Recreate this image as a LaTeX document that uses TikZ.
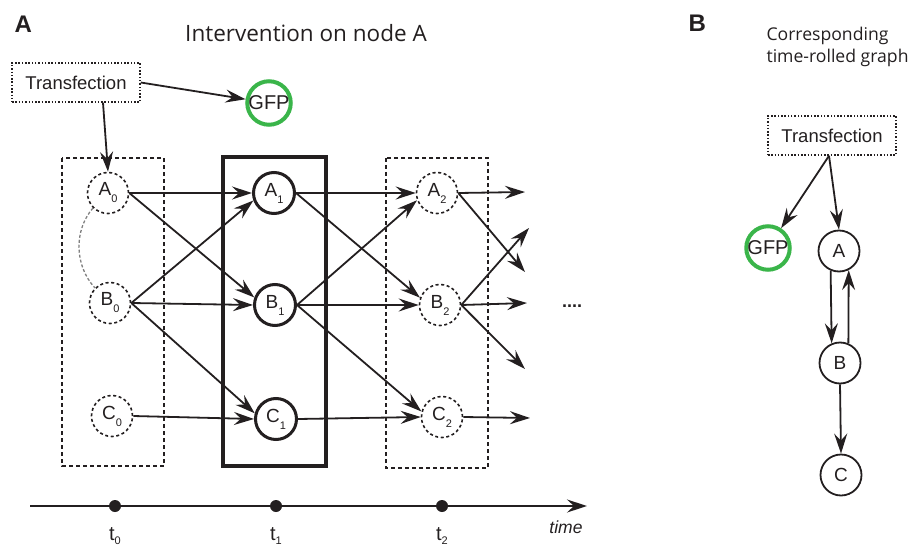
\documentclass[tikz,border=0pt]{standalone}
\usepackage{fontspec}
\setmainfont{Liberation Sans}
\newfontfamily\headfont{Open Sans}
\usetikzlibrary{arrows.meta}

\definecolor{ink}{HTML}{231F20}
\definecolor{gfpgreen}{HTML}{3AB54A}

% lowered indices for the time-slice labels
\newcommand\subidx[1]{\raisebox{-7pt}{\fontsize{11}{11}\selectfont #1}}
\newcommand\tidx[1]{\raisebox{-4pt}{\fontsize{11}{11}\selectfont #1}}

\begin{document}
\begin{tikzpicture}[
  x=1pt, y=-1pt,
  every node/.style={text=ink},
  nodefont/.style={font=\fontsize{19}{20}\selectfont},
  dnode/.style={circle, draw=ink, dash pattern=on 3pt off 2.6pt, line width=1.6pt,
    minimum size=41pt, inner sep=0pt, nodefont},
  knode/.style={circle, draw=ink, line width=3pt, minimum size=41pt, inner sep=0pt, nodefont},
  rnode/.style={circle, draw=ink, line width=1.8pt, minimum size=41pt, inner sep=0pt, nodefont},
  gfpnode/.style={circle, draw=gfpgreen, line width=4pt, minimum size=40pt, inner sep=0pt,
    font=\fontsize{20}{20}\selectfont},
  tbox/.style={draw=ink, dash pattern=on 1.5pt off 1.8pt, line width=1.5pt,
    minimum width=128pt, minimum height=39pt, inner sep=0pt, font=\fontsize{18.5}{20}\selectfont},
  slot/.style={draw=ink, dash pattern=on 4pt off 3pt, line width=1.6pt},
  frame/.style={draw=ink, line width=4pt},
  tip/.style={-{Stealth[length=20pt,width=13pt,inset=7pt]}},
  conn/.style={draw=ink, line width=1.8pt, tip},
  tick/.style={circle, fill=ink, minimum size=12pt, inner sep=0pt},
  tlabel/.style={anchor=base, font=\fontsize{20}{20}\selectfont},
  panel/.style={anchor=base west, font=\fontsize{24}{24}\selectfont\bfseries},
  headline/.style={anchor=base west, font=\headfont\fontsize{17.6}{22}\selectfont},
]
\useasboundingbox (0,0) rectangle (909,548);

% ---------------- panel A ----------------
\node[panel] (labA) at (11,33) {A};
\node[anchor=base, font=\headfont\fontsize{22.5}{22.5}\selectfont] (titleA) at (306,42) {Intervention on node A};

\node[tbox] (T1) at (76,82.5) {Transfection};
\node[gfpnode] (GFP1) at (269,103) {GFP};

% time slices
\draw[slot] (62,158) rectangle (164,466);
\draw[frame] (223,157) rectangle (326,466);
\draw[slot] (386,158) rectangle (488,468);

\node[dnode] (A0) at (108,193) {A\subidx{0}};
\node[dnode] (B0) at (110,303) {B\subidx{0}};
\node[dnode] (C0) at (112,416) {C\subidx{0}};

\node[knode] (A1) at (274,193) {A\subidx{1}};
\node[knode] (B1) at (275,305) {B\subidx{1}};
\node[knode] (C1) at (276,419) {C\subidx{1}};

\node[dnode] (A2) at (437,193) {A\subidx{2}};
\node[dnode] (B2) at (440,305) {B\subidx{2}};
\node[dnode] (C2) at (442,417) {C\subidx{2}};

% intervention inputs
\draw[conn] (T1.east) -- (GFP1);
\draw[conn] ([xshift=27pt]T1.south) -- (A0.north);

% same-slice dependence
\draw[gray, dash pattern=on 3pt off 2pt, line width=1.3pt]
  (A0.225) .. controls (74,230) and (74,265) .. (B0.135);

% t0 -> t1
\draw[conn] (A0.east) -- (A1.west);
\draw[conn] (A0.east) -- (B1.160);
\draw[conn] (B0.east) -- (A1.200);
\draw[conn] (B0.east) -- (B1.west);
\draw[conn] (B0.east) -- (C1.165);
\draw[conn] (C0.east) -- (C1.west);

% t1 -> t2
\draw[conn] (A1.east) -- (A2.west);
\draw[conn] (A1.east) -- (B2.160);
\draw[conn] (B1.east) -- (A2.200);
\draw[conn] (B1.east) -- (B2.west);
\draw[conn] (B1.east) -- (C2.165);
\draw[conn] (C1.east) -- (C2.west);

% t2 -> next slice
\coordinate (nA) at (525,192);
\coordinate (nAB) at (525,272);
\coordinate (nBA) at (529,228);
\coordinate (nB) at (527,303);
\coordinate (nBC) at (525,369);
\coordinate (nC) at (530,418);
\draw[conn] (A2.east) -- (nA);
\draw[conn] (A2.east) -- (nAB);
\draw[conn] (B2.east) -- (nBA);
\draw[conn] (B2.east) -- (nB);
\draw[conn] (B2.east) -- (nBC);
\draw[conn] (C2.east) -- (nC);

\node[anchor=base, font=\fontsize{18}{18}\selectfont\bfseries] (more) at (572,307.5) {....};

% time axis
\coordinate (ax0) at (30,506);
\coordinate (ax1) at (587,506);
\draw[draw=ink, line width=1.8pt, tip] (ax0) -- (ax1);
\node[tick] (d0) at (115,506) {};
\node[tick] (d1) at (276,506) {};
\node[tick] (d2) at (442,506) {};
\node[tlabel] (t0) at (115,540) {t\tidx{0}};
\node[tlabel] (t1) at (276,540) {t\tidx{1}};
\node[tlabel] (t2) at (442,540) {t\tidx{2}};
\node[anchor=base, font=\fontsize{17.5}{18}\selectfont\itshape] (timelbl) at (566,533) {time};

% ---------------- panel B ----------------
\node[panel] (labB) at (685,32) {B};
\node[headline] (titleB1) at (763,41) {Corresponding};
\node[headline] (titleB2) at (763,63) {time-rolled graph};

\node[tbox] (T2) at (832,135.5) {Transfection};
\node[gfpnode] (GFP2) at (768,248) {GFP};
\node[rnode] (RA) at (839,251) {A};
\node[rnode] (RB) at (840,363) {B};
\node[rnode] (RC) at (841,475) {C};

\coordinate (T2s) at ([xshift=-3pt]T2.south);
\draw[conn] (T2s) -- (GFP2);
\draw[conn] (T2s) -- (RA.north);
\draw[conn] (RA.247) -- (RB.113);
\draw[conn] (RB.67) -- (RA.297);
\draw[conn] (RB.south) -- (RC.north);
\end{tikzpicture}
\end{document}
